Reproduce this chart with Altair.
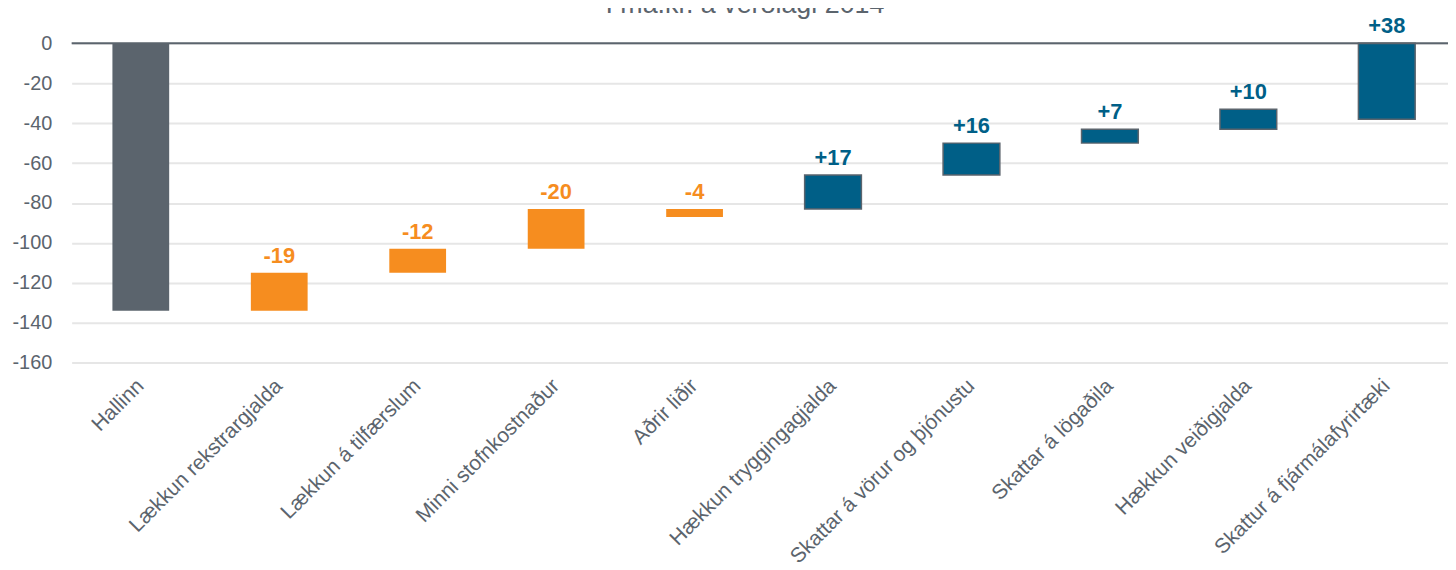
import altair as alt
import pandas as pd

categories = [
    "Hallinn",
    "Lækkun rekstrargjalda",
    "Lækkun á tilfærslum",
    "Minni stofnkostnaður",
    "Aðrir liðir",
    "Hækkun tryggingagjalda",
    "Skattar á vörur og þjónustu",
    "Skattar á lögaðila",
    "Hækkun veiðigjalda",
    "Skattur á fjármálafyrirtæki",
]
bar_start = [0, -134, -115, -103, -83, -83, -66, -50, -43, -38]
bar_end = [-134, -115, -103, -83, -87, -66, -50, -43, -33, 0]
labels = ["", "-19", "-12", "-20", "-4", "+17", "+16", "+7", "+10", "+38"]
kinds = ["Halli", "Lækkun", "Lækkun", "Lækkun", "Lækkun",
         "Hækkun", "Hækkun", "Hækkun", "Hækkun", "Hækkun"]
kind_domain = ["Halli", "Lækkun", "Hækkun"]
kind_colors = ["#5b646d", "#f68d1f", "#005f87"]
y_ticks = [-160, -140, -120, -100, -80, -60, -40, -20, 0]
title_text = "Í ma.kr. á verðlagi 2014"

FONT = "Liberation Sans"
GREY = "#5b646d"

df = pd.DataFrame({
    "cat": categories,
    "start": bar_start,
    "end": bar_end,
    "label": labels,
    "kind": kinds,
})
df["top"] = df[["start", "end"]].max(axis=1)

x_enc = alt.X(
    "cat:N",
    sort=categories,
    scale=alt.Scale(paddingInner=0.59, paddingOuter=0.2658, align=0.554),
    axis=alt.Axis(
        title=None, labelAngle=315, labelAlign="right", labelBaseline="middle",
        labelPadding=20, labelFontSize=21, labelFont=FONT, labelColor=GREY,
        ticks=False, domain=False, labelLimit=0, labelOverlap=False,
    ),
)
color_enc = alt.Color(
    "kind:N",
    scale=alt.Scale(domain=kind_domain, range=kind_colors),
    legend=None,
)

base = alt.Chart(df)

bars = base.mark_bar().encode(
    x=x_enc,
    y=alt.Y(
        "start:Q",
        scale=alt.Scale(domain=[-160, 0], nice=False, zero=False),
        axis=alt.Axis(
            title=None, values=y_ticks, labelFontSize=20, labelFont=FONT,
            labelColor=GREY, ticks=False, domain=False, labelPadding=20,
            labelExpr="'' + datum.value",
            grid=True, gridColor="#e6e6e6", gridWidth=2,
        ),
    ),
    y2="end:Q",
    color=color_enc,
    stroke=alt.condition(alt.datum.kind == "Hækkun", alt.value(GREY), alt.value("transparent")),
    strokeWidth=alt.value(1.5),
)

zero_line = alt.Chart(pd.DataFrame({"v": [0]})).mark_rule(color=GREY, strokeWidth=2).encode(
    y=alt.Y("v:Q")
)

texts = base.transform_filter(alt.datum.label != "").mark_text(
    fontWeight="bold", fontSize=22, font=FONT, baseline="alphabetic", dy=-10
).encode(
    x=x_enc,
    y=alt.Y("top:Q"),
    text="label:N",
    color=color_enc,
)

title = alt.Chart(pd.DataFrame({"t": [title_text]})).mark_text(
    fontSize=27, font=FONT, color=GREY, align="center", baseline="alphabetic"
).encode(
    x=alt.value(677),
    y=alt.value(-31),
    text="t:N",
)

chart = alt.layer(bars, zero_line, texts, title).properties(
    width=1384,
    height=321,
    autosize=alt.AutoSizeParams(type="none"),
    padding={"top": 34, "left": 64, "right": 0, "bottom": 207},
).configure_view(strokeWidth=0)

chart.save("out.html", embed_options={"renderer": "svg", "actions": False})
